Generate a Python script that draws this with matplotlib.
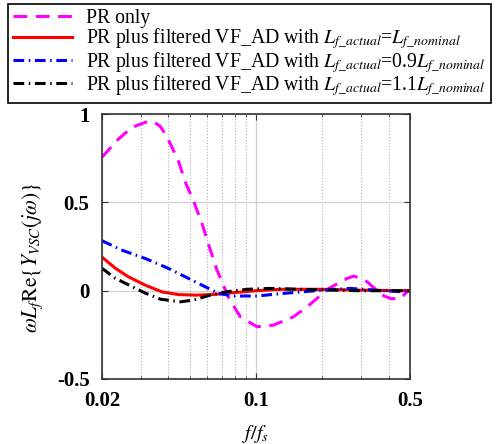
import matplotlib
matplotlib.use('Agg')
import matplotlib.pyplot as plt

plt.rcParams['font.family'] = ['Liberation Serif', 'DejaVu Serif']
plt.rcParams['mathtext.fontset'] = 'stix'

# PR only
f_pr = [0.02, 0.0238, 0.0274, 0.0315, 0.0342, 0.0368, 0.0395, 0.0444, 0.0478, 0.052, 0.0569,
        0.0621, 0.0666, 0.0752, 0.0849, 0.1011, 0.12, 0.148, 0.171, 0.202, 0.214,
        0.259, 0.277, 0.30, 0.32, 0.374, 0.41, 0.453, 0.485, 0.5]
v_pr = [0.756, 0.86, 0.925, 0.954, 0.958, 0.93, 0.87, 0.737, 0.615, 0.51, 0.38,
        0.23, 0.116, -0.04, -0.148, -0.204, -0.195, -0.148, -0.09, -0.015, 0.012,
        0.069, 0.082, 0.072, 0.05, -0.025, -0.045, -0.044, -0.007, 0.0]

# PR plus filtered VF_AD, nominal Lf
f_nom = [0.02, 0.023, 0.0264, 0.0315, 0.0375, 0.0444, 0.0531, 0.0632, 0.0752, 0.0865,
         0.1, 0.13, 0.2, 0.3, 0.5]
v_nom = [0.19, 0.127, 0.078, 0.031, -0.007, -0.022, -0.025, -0.022, -0.013, -0.007,
         0.0, 0.008, 0.008, 0.003, 0.0]

# 0.9 Lf nominal
f_09 = [0.02, 0.0247, 0.0315, 0.0401, 0.0495, 0.0589, 0.0677, 0.0792, 0.1011, 0.129,
        0.159, 0.202, 0.268, 0.379, 0.453, 0.5]
v_09 = [0.283, 0.229, 0.182, 0.126, 0.069, 0.022, -0.016, -0.03, -0.03, -0.017,
        -0.007, 0.003, 0.013, 0.0, -0.005, 0.0]

# 1.1 Lf nominal
f_11 = [0.02, 0.023, 0.0264, 0.0315, 0.0368, 0.0454, 0.052, 0.0621, 0.0739, 0.0911,
        0.1162, 0.159, 0.21, 0.3, 0.5]
v_11 = [0.127, 0.07, 0.033, -0.014, -0.048, -0.063, -0.053, -0.025, -0.006, 0.008,
        0.013, 0.008, 0.004, 0.0, 0.0]

labels = ['PR only',
          r'PR plus filtered VF_AD with $L_{f\_actual}$=$L_{f\_nominal}$',
          r'PR plus filtered VF_AD with $L_{f\_actual}$=0.9$L_{f\_nominal}$',
          r'PR plus filtered VF_AD with $L_{f\_actual}$=1.1$L_{f\_nominal}$']

xticks = [0.02, 0.1, 0.5]
xticklabels = ['0.02', '0.1', '0.5']
xminor = [0.03, 0.04, 0.05, 0.06, 0.07, 0.08, 0.09, 0.2, 0.3, 0.4]
yticks = [-0.5, 0, 0.5, 1]
yticklabels = ['-0.5', '0', '0.5', '1']

fig = plt.figure(figsize=(5.01, 4.44), dpi=100)
ax = fig.add_axes([0.2036, 0.1464, 0.6145, 0.5966])

lw = 2.2
l1, = ax.plot(f_pr, v_pr, color='#ff00ff', lw=lw, dashes=(4.5, 2.8))
l2, = ax.plot(f_nom, v_nom, color='#ff0000', lw=lw)
l3, = ax.plot(f_09, v_09, color='#0000ff', lw=lw, dashes=(3.5, 1.5, 0.5, 1.5))
l4, = ax.plot(f_11, v_11, color='black', lw=lw, dashes=(3.5, 1.5, 0.5, 1.5))

ax.set_xscale('log')
ax.set_xlim(0.02, 0.5)
ax.set_ylim(-0.5, 1)
ax.set_xticks(xticks)
ax.set_xticklabels(xticklabels)
ax.set_xticks(xminor, minor=True)
ax.set_xticklabels([], minor=True)
ax.set_yticks(yticks)
ax.set_yticklabels(yticklabels)

ax.grid(True, which='major', color='#d0d0d0', lw=0.9, ls='-')
ax.grid(True, which='minor', axis='x', color='#b0b0b0', lw=0.8, ls=':')
ax.set_axisbelow(True)

ax.tick_params(which='both', direction='in', top=True, right=True, color='#333333')
ax.tick_params(which='major', length=4, labelsize=15, pad=9)
ax.tick_params(which='minor', length=2.5)
for t in ax.get_xticklabels() + ax.get_yticklabels():
    t.set_fontweight('bold')
for s in ax.spines.values():
    s.set_linewidth(1.2)
    s.set_color('#333333')

ax.set_xlabel(r'$f/f_s$', fontsize=14.5, labelpad=8)
ax.set_ylabel(r'$\omega L_f\mathrm{Re}\{Y_{VSC}(j\omega)\}$', fontsize=15.5)
ax.yaxis.set_label_coords(-0.185, 0.457)

leg = fig.legend([l1, l2, l3, l4], labels, loc='upper left',
                 bbox_to_anchor=(0.016, 0.991), fontsize=14.2, frameon=True,
                 fancybox=False, edgecolor='black', framealpha=1,
                 handlelength=3.0, labelspacing=-0.08, borderpad=0.25,
                 handletextpad=0.7, borderaxespad=0)
leg.get_frame().set_linewidth(1.2)

fig.savefig('out.png', dpi=100)
